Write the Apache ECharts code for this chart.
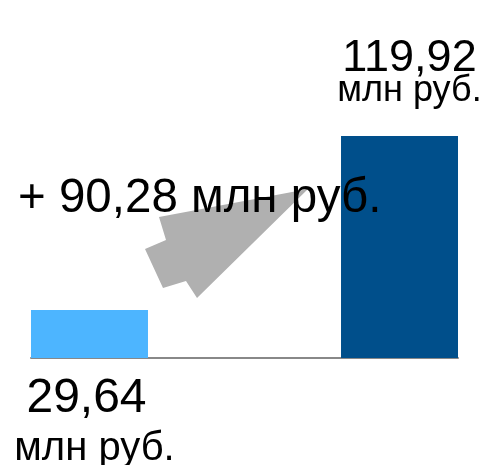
<!DOCTYPE html>
<html lang="ru">
<head>
    <meta charset="UTF-8">
    <title>Прирост</title>
    <style>
        html, body { margin: 0; padding: 0; background: #fff; }
        #chart { width: 483px; height: 465px; }
    </style>
</head>
<body>
<div id="chart"></div>
<script src="https://cdn.jsdelivr.net/npm/echarts@6/dist/echarts.min.js"></script>
<script>
    // данные
    var categories = ['Было', 'Стало'];
    var before = [29.64, '-'];
    var after = ['-', 119.92];
    var change = [90.28];
    var unit = 'млн руб.';

    var FONT = 'Liberation Sans, Arial, sans-serif';

    function fmt(v) {
        return v.toFixed(2).replace('.', ',');
    }

    var myChart = echarts.init(document.getElementById('chart'));

    var option = {
        animation: false,
        grid: { left: 31, right: 25, top: 136, bottom: 107 },
        xAxis: {
            type: 'category',
            data: categories,
            axisLine: { onZero: false, lineStyle: { color: '#888888', width: 2 } },
            axisTick: { show: false },
            axisLabel: { show: false }
        },
        yAxis: {
            type: 'value',
            min: 4.74,
            max: 119.92,
            show: false,
            splitLine: { show: false }
        },
        graphic: [
            {
                type: 'polygon',
                z: 1,
                shape: {
                    points: [[308, 189], [159, 217], [166, 240], [145, 249], [163, 288], [186, 281], [197, 298]]
                },
                style: { fill: '#b0b0b0' }
            },
            {
                type: 'text',
                z: 10,
                x: 18,
                y: 199,
                style: {
                    text: '+ ' + fmt(change[0]) + ' ' + unit,
                    font: '47.5px ' + FONT,
                    fill: '#000',
                    textAlign: 'left',
                    textVerticalAlign: 'middle'
                }
            }
        ],
        series: [
            {
                type: 'bar',
                data: before,
                barWidth: 117,
                barGap: '-17.5%',
                itemStyle: { color: '#4db5ff' },
                label: {
                    show: true,
                    position: 'bottom',
                    distance: 14,
                    color: '#000',
                    formatter: function (p) {
                        return '{v|' + fmt(p.value) + '}\n{u|' + unit + '}';
                    },
                    rich: {
                        v: { fontFamily: FONT, fontSize: 48, lineHeight: 54, color: '#000', padding: [0, 6, 0, 0] },
                        u: { fontFamily: FONT, fontSize: 40, lineHeight: 46, color: '#000', padding: [0, 0, 0, 10] }
                    }
                }
            },
            {
                type: 'bar',
                data: after,
                barWidth: 117,
                barGap: '-17.5%',
                itemStyle: { color: '#004f8b' },
                label: {
                    show: true,
                    position: 'top',
                    distance: 30,
                    offset: [10, 0],
                    color: '#000',
                    formatter: function (p) {
                        return '{v|' + fmt(p.value) + '}\n{u|' + unit + '}';
                    },
                    rich: {
                        v: { fontFamily: FONT, fontSize: 45, lineHeight: 34, color: '#000' },
                        u: { fontFamily: FONT, fontSize: 36, lineHeight: 30, color: '#000' }
                    }
                }
            }
        ]
    };

    myChart.setOption(option);
</script>
</body>
</html>
